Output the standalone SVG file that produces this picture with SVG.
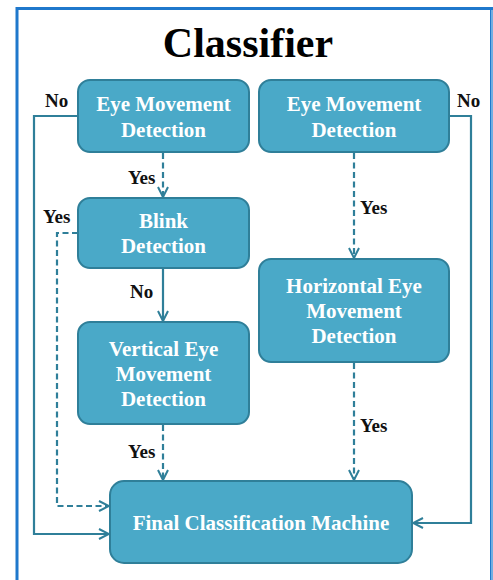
<svg xmlns="http://www.w3.org/2000/svg" width="493" height="580" viewBox="0 0 493 580">
<style>
.box{fill:#4aa9c8;stroke:#2f7f99;stroke-width:2}
.bt{font-family:"Liberation Serif",serif;font-weight:bold;font-size:21px;fill:#ffffff;text-anchor:middle}
.lb{font-family:"Liberation Serif",serif;font-weight:bold;font-size:19px;fill:#111111}
.c{fill:none;stroke:#2f7f99;stroke-width:2.2}
.d{stroke-dasharray:6 3.5}
</style>
<defs>
<marker id="ah" viewBox="0 0 12 12" refX="11" refY="6" markerWidth="12" markerHeight="12" markerUnits="userSpaceOnUse" orient="auto">
<path d="M1,1 L11,6 L1,11" fill="none" stroke="#2f7f99" stroke-width="2"/>
</marker>
</defs>
<rect x="0" y="0" width="493" height="580" fill="#ffffff"/>
<path d="M17,600 L17,8.5 L491.5,8.5 L491.5,600" fill="none" stroke="#1f78cc" stroke-width="3"/>
<line x1="492" y1="10" x2="492" y2="580" stroke="#8ec0ea" stroke-width="1.5"/>
<text x="248" y="57" font-family="Liberation Serif,serif" font-weight="bold" font-size="42" text-anchor="middle" fill="#000">Classifier</text>
<g id="connectors">
<path class="c" d="M77,116 H34 V534 H109" marker-end="url(#ah)"/>
<path class="c" d="M449,116 H471 V523 H413" marker-end="url(#ah)"/>
<path class="c d" d="M163,153 V197" marker-end="url(#ah)"/>
<path class="c d" d="M78,233 H57 V506 H109" marker-end="url(#ah)"/>
<path class="c" d="M163,269 V321" marker-end="url(#ah)"/>
<path class="c d" d="M163,425 V480" marker-end="url(#ah)"/>
<path class="c d" d="M354,153 V258" marker-end="url(#ah)"/>
<path class="c d" d="M354,363 V480" marker-end="url(#ah)"/>
</g>
<g id="labels">
<text class="lb" x="45" y="107">No</text>
<text class="lb" x="457" y="107">No</text>
<text class="lb" x="128" y="184">Yes</text>
<text class="lb" x="43" y="223">Yes</text>
<text class="lb" x="130" y="298">No</text>
<text class="lb" x="360" y="214">Yes</text>
<text class="lb" x="360" y="432">Yes</text>
<text class="lb" x="128" y="458">Yes</text>
</g>
<g id="eye1">
<rect class="box" x="78" y="80" width="171" height="72" rx="12"/>
<text class="bt" x="163.5" y="111">Eye Movement</text>
<text class="bt" x="163.5" y="137">Detection</text>
</g>
<g id="eye2">
<rect class="box" x="259" y="80" width="190" height="72" rx="12"/>
<text class="bt" x="354" y="111">Eye Movement</text>
<text class="bt" x="354" y="137">Detection</text>
</g>
<g id="blink">
<rect class="box" x="78" y="198" width="171" height="70" rx="12"/>
<text class="bt" x="163.5" y="228">Blink</text>
<text class="bt" x="163.5" y="253">Detection</text>
</g>
<g id="horizontal">
<rect class="box" x="259" y="259" width="190" height="103" rx="12"/>
<text class="bt" x="354" y="293">Horizontal Eye</text>
<text class="bt" x="354" y="318">Movement</text>
<text class="bt" x="354" y="343">Detection</text>
</g>
<g id="vertical">
<rect class="box" x="78" y="322" width="171" height="102" rx="12"/>
<text class="bt" x="163.5" y="356">Vertical Eye</text>
<text class="bt" x="163.5" y="381">Movement</text>
<text class="bt" x="163.5" y="406">Detection</text>
</g>
<g id="final">
<rect class="box" x="110" y="481" width="302" height="82" rx="14"/>
<text class="bt" x="261" y="530" font-size="22">Final Classification Machine</text>
</g>
</svg>
